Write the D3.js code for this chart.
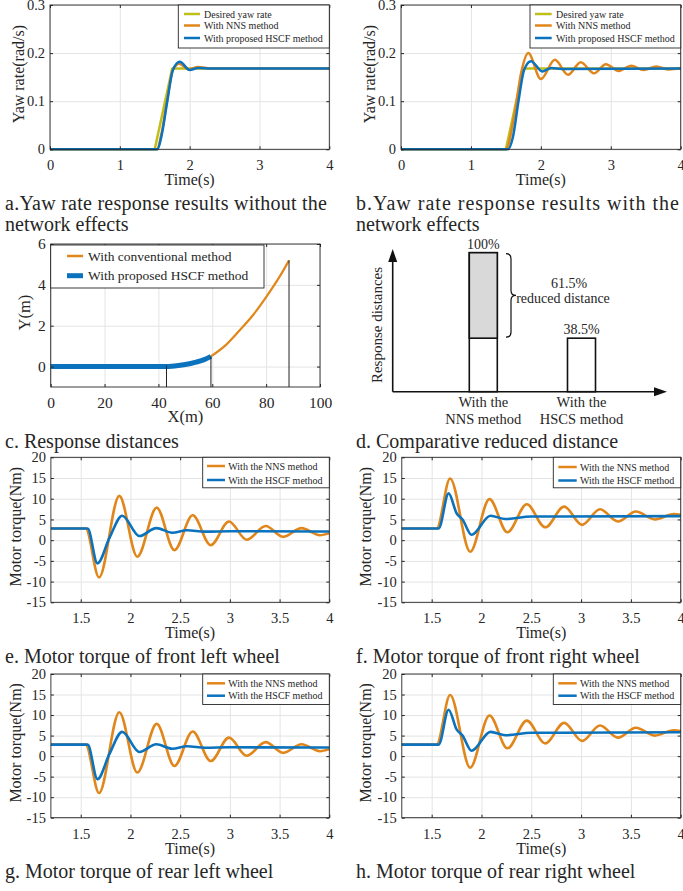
<!DOCTYPE html>
<html>
<head>
<meta charset="utf-8">
<script src="https://cdn.jsdelivr.net/npm/d3@7"></script>
<style>
    body { margin: 0; background: #fff; }
    svg text { font-family: "Liberation Serif", "Times New Roman", serif; fill: #262626; }
</style>
</head>
<body>
<div id="container"></div>
<script>
// ---- values ----
const yawTicksX = [0, 1, 2, 3, 4];
const yawTicksY = [0, 0.1, 0.2, 0.3];
const torqueTicksX = [1.5, 2, 2.5, 3, 3.5, 4];
const torqueTicksY = [-15, -10, -5, 0, 5, 10, 15, 20];
const pathTicksX = [0, 20, 40, 60, 80, 100];
const pathTicksY = [0, 2, 4, 6];

// yaw rate (t, rad/s)
const desiredYaw = [[0, 0], [1.5, 0], [1.75, 0.168], [4, 0.168]];
const nnsYawNoNet = [[0, 0], [1.53, 0], [1.6, 0.035], [1.68, 0.105], [1.76, 0.165], [1.85, 0.178],
    [1.99, 0.166], [2.12, 0.171], [2.3, 0.168], [4, 0.168]];
const hscfYawNoNet = [[0, 0], [1.54, 0], [1.6, 0.03], [1.68, 0.1], [1.76, 0.165], [1.86, 0.182],
    [2.0, 0.165], [2.12, 0.169], [2.3, 0.168], [4, 0.168]];
const nnsYawNet = [[0, 0], [1.5, 0], [1.62, 0.07], [1.72, 0.16], [1.82, 0.2], [2.0, 0.146], [2.2, 0.186],
    [2.39, 0.155], [2.57, 0.181], [2.76, 0.158], [2.93, 0.177], [3.11, 0.163], [3.29, 0.1735],
    [3.47, 0.165], [3.65, 0.172], [3.83, 0.166], [4.0, 0.169]];
const hscfYawNet = [[0, 0], [1.53, 0], [1.6, 0.025], [1.68, 0.1], [1.76, 0.165], [1.86, 0.183],
    [2.02, 0.162], [2.15, 0.169], [2.3, 0.167], [4, 0.168]];

// trajectories (X m, Y m)
const conventionalPath = [[59.5, 0.5], [65, 1.05], [70, 1.75], [75, 2.5], [80, 3.4], [85, 4.4], [88.5, 5.2]];
const hscfPath = [[0, 0], [42, 0], [46, 0.03], [50, 0.1], [54, 0.22], [57, 0.34], [59.5, 0.5]];
const markerX = [43, 59.5, 88.5];
const markerY = [0.05, 0.5, 5.2];

// comparative distances (%)
const methods = ["NNS", "HSCS"];
const totalDistance = [100, 38.5];
const reducedShare = 61.5;

// motor torque (t, Nm)
const nnsTorqueLeft = [[1.2, 2.8], [1.55, 2.8], [1.684, -9.0], [1.888, 10.7], [2.069, -4.0], [2.264, 7.85],
    [2.442, -2.4], [2.626, 6.0], [2.807, -1.2], [2.991, 4.5], [3.169, 0.1], [3.36, 3.4], [3.537, 0.8],
    [3.72, 2.9], [3.905, 1.2], [4.0, 1.7]];
const hscfTorqueLeft = [[1.2, 2.8], [1.57, 2.8], [1.668, -5.6], [1.79, 0.6], [1.917, 5.9], [2.09, 1.0],
    [2.26, 2.9], [2.42, 1.8], [2.57, 2.4], [2.75, 2.05], [3.0, 2.15], [4.0, 2.1]];
const nnsTorqueRight = [[1.2, 2.8], [1.55, 2.8], [1.685, 14.9], [1.886, -2.8], [2.08, 9.9], [2.26, 1.9],
    [2.455, 8.65], [2.64, 3.1], [2.83, 8.1], [3.01, 3.7], [3.19, 7.45], [3.37, 4.5], [3.55, 6.9],
    [3.74, 5.0], [3.93, 6.3], [4.0, 6.1]];
const hscfTorqueRight = [[1.2, 2.8], [1.57, 2.8], [1.67, 11.3], [1.75, 6.5], [1.81, 5.0], [1.9, 1.3],
    [2.09, 5.9], [2.24, 5.1], [2.5, 5.7], [2.8, 5.7], [4.0, 5.8]];

const COLORS = { desired: "#bfbf1c", nns: "#e0861a", hscf: "#0b72bd" };
const INK = "#262626";

const svg = d3.select("#container").append("svg")
    .attr("width", 683)
    .attr("height", 891);
svg.append("rect").attr("width", 683).attr("height", 891).attr("fill", "#fff");

function linePanel(p) {
    const x = d3.scaleLinear().domain(p.xDomain).range([p.left, p.right]);
    const y = d3.scaleLinear().domain(p.yDomain).range([p.bottom, p.top]);
    const g = svg.append("g");
    const h = p.bottom - p.top, w = p.right - p.left;

    // grid
    g.append("g").attr("transform", `translate(0,${p.bottom})`)
        .call(d3.axisBottom(x).tickValues(p.xTicks).tickSize(-h).tickFormat(""))
        .call(a => a.select(".domain").remove())
        .selectAll("line").attr("stroke", "#e4e4e4");
    g.append("g").attr("transform", `translate(${p.left},0)`)
        .call(d3.axisLeft(y).tickValues(p.yTicks).tickSize(-w).tickFormat(""))
        .call(a => a.select(".domain").remove())
        .selectAll("line").attr("stroke", "#e4e4e4");

    // extra marks under the lines (panel c)
    if (p.extra) p.extra(g, x, y);

    // series
    p.series.forEach(s => {
        g.append("path")
            .datum(s.data)
            .attr("fill", "none")
            .attr("stroke", s.color)
            .attr("stroke-width", s.width)
            .attr("stroke-linejoin", "round")
            .attr("d", d3.line()
                .x(d => x(d[0]))
                .y(d => y(d[1]))
                .curve(s.linear ? d3.curveLinear : d3.curveMonotoneX));
    });

    if (p.after) p.after(g, x, y);

    // axes (MATLAB style: ticks inward, box on)
    const fmt = d => String(d);
    g.append("g").attr("transform", `translate(0,${p.bottom})`)
        .call(d3.axisBottom(x).tickValues(p.xTicks).tickSize(-3).tickFormat(fmt))
        .call(a => a.select(".domain").remove())
        .call(a => a.selectAll("line").attr("stroke", INK))
        .call(a => a.selectAll("text").attr("y", 21).attr("dy", 0)
            .attr("font-size", p.tickFont || 14.5).attr("fill", INK)
            .style("font-family", "Liberation Serif"));
    g.append("g").attr("transform", `translate(0,${p.top})`)
        .call(d3.axisTop(x).tickValues(p.xTicks).tickSize(-3).tickFormat(""))
        .call(a => a.select(".domain").remove())
        .selectAll("line").attr("stroke", INK);
    g.append("g").attr("transform", `translate(${p.left},0)`)
        .call(d3.axisLeft(y).tickValues(p.yTicks).tickSize(-3).tickFormat(fmt))
        .call(a => a.select(".domain").remove())
        .call(a => a.selectAll("line").attr("stroke", INK))
        .call(a => a.selectAll("text").attr("x", -5)
            .attr("font-size", p.tickFont || 14.5).attr("fill", INK)
            .style("font-family", "Liberation Serif"));
    g.append("g").attr("transform", `translate(${p.right},0)`)
        .call(d3.axisRight(y).tickValues(p.yTicks).tickSize(-3).tickFormat(""))
        .call(a => a.select(".domain").remove())
        .selectAll("line").attr("stroke", INK);
    g.selectAll(".tick text").style("font-family", "Liberation Serif");

    g.append("rect")
        .attr("x", p.left).attr("y", p.top)
        .attr("width", w).attr("height", h)
        .attr("fill", "none").attr("stroke", INK).attr("stroke-width", 0.9);

    // axis titles
    g.append("text")
        .attr("x", (p.left + p.right) / 2)
        .attr("y", p.bottom + (p.xTitleOffset || 36))
        .attr("text-anchor", "middle")
        .attr("font-size", p.titleFont || 16)
        .text(p.xTitle);
    g.append("text")
        .attr("transform", `translate(${p.yTitleX},${p.yTitleY || (p.top + p.bottom) / 2 - 3}) rotate(-90)`)
        .attr("text-anchor", "middle")
        .attr("dy", "0.35em")
        .attr("font-size", p.titleFont || 16)
        .text(p.yTitle);

    // legend
    const L = p.legend;
    g.append("rect")
        .attr("x", L.box[0]).attr("y", L.box[1])
        .attr("width", L.box[2] - L.box[0]).attr("height", L.box[3] - L.box[1])
        .attr("fill", "#fff").attr("stroke", INK).attr("stroke-width", 0.9);
    L.entries.forEach((e, i) => {
        g.append("line")
            .attr("x1", L.line[0]).attr("x2", L.line[1])
            .attr("y1", L.rows[i]).attr("y2", L.rows[i])
            .attr("stroke", e.color).attr("stroke-width", e.width);
        g.append("text")
            .attr("x", L.textX).attr("y", L.rows[i])
            .attr("dy", "0.35em")
            .attr("font-size", L.font)
            .text(e.label);
    });
}

function caption(x, y, text, justifyTo) {
    const t = svg.append("text")
        .attr("x", x).attr("y", y)
        .attr("font-size", 20)
        .attr("fill", "#000")
        .text(text);
    if (justifyTo) t.attr("textLength", justifyTo - x).attr("lengthAdjust", "spacing");
}

// ---- a / b: yaw rate ----
const yawLegend = (x0, x1, lx0, lx1, tx) => ({
    box: [x0, 5, x1, 48], rows: [14, 25.5, 38], line: [lx0, lx1], textX: tx, font: 10,
    entries: [
        { label: "Desired yaw rate", color: COLORS.desired, width: 2.5 },
        { label: "With NNS method", color: COLORS.nns, width: 2.5 },
        { label: "With proposed HSCF method", color: COLORS.hscf, width: 2.5 }
    ]
});

linePanel({
    left: 50, right: 329.3, top: 5, bottom: 149.3,
    xDomain: [0, 4], yDomain: [0, 0.3], xTicks: yawTicksX, yTicks: yawTicksY,
    xTitle: "Time(s)", yTitle: "Yaw rate(rad/s)", yTitleX: 18,
    series: [
        { data: desiredYaw, color: COLORS.desired, width: 2.5, linear: true },
        { data: nnsYawNoNet, color: COLORS.nns, width: 2.5 },
        { data: hscfYawNoNet, color: COLORS.hscf, width: 2.5 }
    ],
    legend: yawLegend(178.3, 329.3, 184, 200, 204)
});
linePanel({
    left: 401, right: 680.7, top: 5, bottom: 149.3,
    xDomain: [0, 4], yDomain: [0, 0.3], xTicks: yawTicksX, yTicks: yawTicksY,
    xTitle: "Time(s)", yTitle: "Yaw rate(rad/s)", yTitleX: 369,
    series: [
        { data: desiredYaw, color: COLORS.desired, width: 2.5, linear: true },
        { data: nnsYawNet, color: COLORS.nns, width: 2.5 },
        { data: hscfYawNet, color: COLORS.hscf, width: 2.5 }
    ],
    legend: yawLegend(530, 680.7, 535, 551.7, 556)
});
caption(5, 209.5, "a.Yaw rate response results without the", 327);
caption(5, 231, "network effects");
caption(356, 209.5, "b.Yaw rate response results with the", 679);
caption(356, 231, "network effects");

// ---- c: response distances ----
linePanel({
    left: 50.7, right: 320, top: 244, bottom: 387,
    xDomain: [0, 100], yDomain: [-1, 6], xTicks: pathTicksX, yTicks: pathTicksY,
    xTitle: "X(m)", yTitle: "Y(m)", yTitleX: 24, tickFont: 15.5, titleFont: 16.5, xTitleOffset: 35,
    series: [
        { data: conventionalPath, color: COLORS.nns, width: 2.2 },
        { data: hscfPath, color: COLORS.hscf, width: 5 }
    ],
    after: (g, x, y) => {
        g.selectAll(".marker").data(markerX).enter().append("line")
            .attr("x1", d => x(d)).attr("x2", d => x(d))
            .attr("y1", y(-1)).attr("y2", (d, i) => y(markerY[i]))
            .attr("stroke", "#222").attr("stroke-width", 1);
    },
    legend: {
        box: [50.7, 245, 264, 288], rows: [256, 275.7], line: [67, 83], textX: 88, font: 13.5,
        entries: [
            { label: "With conventional method", color: COLORS.nns, width: 2.5 },
            { label: "With proposed HSCF method", color: COLORS.hscf, width: 5 }
        ]
    }
});
caption(5, 448, "c. Response distances");

// ---- d: comparative reduced distance ----
(function () {
    const g = svg.append("g");
    const ox = 392.7, oy = 391.7;
    const x = d3.scalePoint().domain(methods).range([483.3, 581.5]);
    const y = d3.scaleLinear().domain([0, 100]).range([oy, 252.7]);
    const bw = 28;

    // axes with arrows
    g.append("line").attr("x1", ox).attr("y1", oy).attr("x2", ox).attr("y2", 260)
        .attr("stroke", "#111").attr("stroke-width", 1.6);
    g.append("line").attr("x1", ox).attr("y1", oy).attr("x2", 657).attr("y2", oy)
        .attr("stroke", "#111").attr("stroke-width", 1.6);
    g.append("path").attr("d", `M${ox},249 L${ox - 4.5},262 L${ox + 4.5},262 Z`).attr("fill", "#111");
    g.append("path").attr("d", `M667,${oy} L654,${oy - 4.5} L654,${oy + 4.5} Z`).attr("fill", "#111");

    // bars
    methods.forEach((m, i) => {
        g.append("rect")
            .attr("x", x(m) - bw / 2).attr("y", y(totalDistance[i]))
            .attr("width", bw).attr("height", oy - y(totalDistance[i]))
            .attr("fill", "#fff").attr("stroke", "#111").attr("stroke-width", 1.6);
    });
    // reduced part on the NNS bar
    g.append("rect")
        .attr("x", x("NNS") - bw / 2).attr("y", y(100))
        .attr("width", bw).attr("height", y(100 - reducedShare) - y(100))
        .attr("fill", "#d9d9d9").attr("stroke", "#111").attr("stroke-width", 1.6);

    // value labels
    methods.forEach((m, i) => {
        g.append("text")
            .attr("x", x(m)).attr("y", y(totalDistance[i]) - 4)
            .attr("text-anchor", "middle").attr("font-size", 14)
            .attr("fill", "#111")
            .text(totalDistance[i] + "%");
    });

    // brace
    const yT = y(100) + 1, yB = y(100 - reducedShare) - 1, ym = (yT + yB) / 2;
    const bx = 506, stem = 511, tip = 516, r = 5;
    g.append("path")
        .attr("d", `M${bx},${yT} Q${stem},${yT} ${stem},${yT + r} L${stem},${ym - r} Q${stem},${ym} ${tip},${ym}` +
            ` Q${stem},${ym} ${stem},${ym + r} L${stem},${yB - r} Q${stem},${yB} ${bx},${yB}`)
        .attr("fill", "none").attr("stroke", "#111").attr("stroke-width", 1.2);
    g.append("text").attr("x", 569).attr("y", 288).attr("text-anchor", "middle")
        .attr("font-size", 14).attr("fill", "#111").text(reducedShare + "%");
    g.append("text").attr("x", 563).attr("y", 303).attr("text-anchor", "middle")
        .attr("font-size", 14).attr("fill", "#111").text("reduced distance");

    // category labels
    methods.forEach(m => {
        g.append("text").attr("x", x(m)).attr("y", 407).attr("text-anchor", "middle")
            .attr("font-size", 14.5).attr("fill", "#111").text("With the");
        g.append("text").attr("x", x(m)).attr("y", 424).attr("text-anchor", "middle")
            .attr("font-size", 14.5).attr("fill", "#111").text(m + " method");
    });
    g.append("text")
        .attr("transform", `translate(377,325) rotate(-90)`)
        .attr("text-anchor", "middle").attr("dy", "0.35em")
        .attr("font-size", 15).attr("fill", "#111")
        .text("Response distances");
})();
caption(356, 448, "d. Comparative reduced distance");

// ---- e-h: motor torque ----
const torqueLegend = (x0, y0, lx0, lx1, tx, rows) => ({
    box: [x0, y0, x0 === 202.7 ? 329.3 : 680.7, y0 + 30.5], rows: rows, line: [lx0, lx1], textX: tx, font: 10,
    entries: [
        { label: "With the NNS method", color: COLORS.nns, width: 2.5 },
        { label: "With the HSCF method", color: COLORS.hscf, width: 2.5 }
    ]
});
const torquePanels = [
    { left: 50.9, right: 329.3, top: 457.3, bottom: 602.3, nns: nnsTorqueLeft, hscf: hscfTorqueLeft, yx: 15,
      legend: torqueLegend(202.7, 457.3, 207, 225, 228.3, [466, 480]),
      cap: [5, 663.3, "e. Motor torque of front left wheel"] },
    { left: 401.8, right: 680.7, top: 457.3, bottom: 602.3, nns: nnsTorqueRight, hscf: hscfTorqueRight, yx: 365,
      legend: torqueLegend(553.3, 457.3, 558.3, 576.7, 580, [467, 480.5]),
      cap: [356, 663.3, "f. Motor torque of front right wheel"] },
    { left: 50.9, right: 329.3, top: 674, bottom: 817.7, nns: nnsTorqueLeft, hscf: hscfTorqueLeft, yx: 15,
      legend: torqueLegend(202.7, 674, 207, 225, 228.3, [683.3, 695.7]),
      cap: [5, 878.3, "g. Motor torque of rear left wheel"] },
    { left: 401.8, right: 680.7, top: 674, bottom: 817.7, nns: nnsTorqueRight, hscf: hscfTorqueRight, yx: 365,
      legend: torqueLegend(553.3, 674, 558.3, 576.7, 580, [683.3, 695.7]),
      cap: [356, 878.3, "h. Motor torque of rear right wheel"] }
];
torquePanels.forEach(tp => {
    linePanel({
        left: tp.left, right: tp.right, top: tp.top, bottom: tp.bottom,
        xDomain: [1.2, 4], yDomain: [-15, 20], xTicks: torqueTicksX, yTicks: torqueTicksY,
        xTitle: "Time(s)", yTitle: "Motor torque(Nm)", yTitleX: tp.yx,
        series: [
            { data: tp.nns, color: COLORS.nns, width: 2.6 },
            { data: tp.hscf, color: COLORS.hscf, width: 2.6 }
        ],
        legend: tp.legend
    });
    caption(tp.cap[0], tp.cap[1], tp.cap[2]);
});
</script>
</body>
</html>
